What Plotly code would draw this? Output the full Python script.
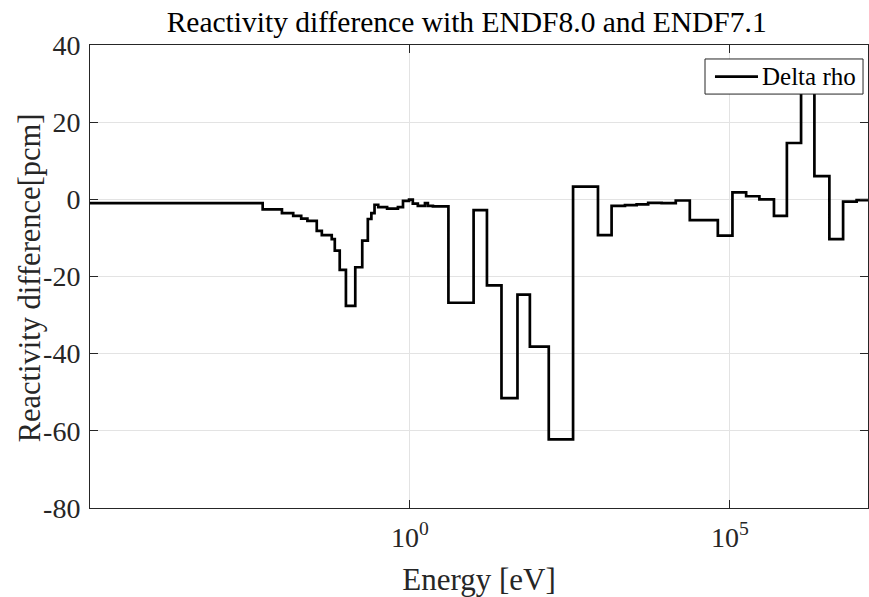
import numpy as np
import plotly.graph_objects as go

# Group boundaries [eV] and reactivity difference per group [pcm]
energy_edges = [
    1e-5, 5e-3, 1e-2, 1.5e-2, 2e-2, 2.5e-2, 3.5e-2, 4.2e-2, 6e-2, 6.7e-2,
    8e-2, 0.1, 0.14, 0.18, 0.22, 0.25, 0.28, 0.32, 0.44, 0.65,
    0.78, 0.97, 1.11, 1.33, 1.72, 1.91, 2.29, 4.0, 9.9, 16,
    27, 48, 75, 148, 355, 870, 1.42e3, 2.3e3, 3.5e3, 5.3e3,
    8.6e3, 1.43e4, 2.37e4, 6.5e4, 1.1e5, 1.8e5, 2.9e5, 4.9e5, 7.8e5, 1.3e6,
    2.1e6, 3.6e6, 5.9e6, 9.6e6, 1.6e7,
]
delta_rho = [
    -1.0, -2.6, -3.6, -4.3, -5.0, -5.6, -8.2, -9.3, -10.3, -13.3,
    -18.3, -27.6, -17.6, -10.7, -5.1, -3.6, -1.4, -2.0, -2.4, -2.0,
    -0.4, -0.1, -1.1, -1.7, -1.0, -1.7, -1.8, -26.8, -2.8, -22.3,
    -51.5, -24.7, -38.2, -62.2, 3.3, -9.3, -1.7, -1.5, -1.3, -0.9,
    -1.0, -0.3, -5.4, -9.4, 1.8, 0.8, 0.0, -4.3, 14.6, 32.0,
    6.0, -10.3, -0.6, -0.2,
]

x_ticks = [1, 1e5]
x_ticktext = ["10<sup>0</sup>", "10<sup>5</sup>"]
y_ticks = [-80, -60, -40, -20, 0, 20, 40]
y_ticktext = ["-80", "-60", "-40", "-20", "0", "20", "40"]
series_name = "Delta rho"

FONT = "Liberation Serif"
AXIS_COLOR = "#262626"
GRID_COLOR = "#e3e3e3"
LINE_W = 2.7

# Step curve: each value is held across its energy group
x_step = energy_edges
y_step = delta_rho + [delta_rho[-1]]

fig = go.Figure()
fig.add_trace(go.Scatter(
    x=x_step, y=y_step, mode="lines", name=series_name,
    line=dict(color="black", width=LINE_W, shape="hv"),
    showlegend=False,
))

# Boxed legend in the upper-right corner, drawn over the curve
leg_x0, leg_x1, leg_y0, leg_y1 = 0.7905, 0.9936, 0.894, 0.9698
leg_ym = (leg_y0 + leg_y1) / 2
fig.add_shape(type="rect", xref="paper", yref="paper",
              x0=leg_x0, x1=leg_x1, y0=leg_y0, y1=leg_y1,
              fillcolor="white", line=dict(color=AXIS_COLOR, width=1),
              layer="above")
fig.add_shape(type="line", xref="paper", yref="paper",
              x0=leg_x0 + 0.0128, x1=leg_x0 + 0.0681, y0=leg_ym, y1=leg_ym,
              line=dict(color="black", width=LINE_W), layer="above")
fig.add_annotation(xref="paper", yref="paper", x=leg_x0 + 0.0705, y=leg_ym,
                   xanchor="left", yanchor="middle", showarrow=False,
                   text=series_name,
                   font=dict(family=FONT, size=25, color="black"))

# Vertical axis title
fig.add_annotation(xref="paper", yref="paper", x=-0.0771, y=0.496,
                   xanchor="center", yanchor="middle", showarrow=False,
                   textangle=-90, text="Reactivity difference[pcm]",
                   font=dict(family=FONT, size=30.5, color=AXIS_COLOR))

fig.update_layout(
    width=869, height=597,
    margin=dict(l=90, r=1, t=45, b=89),
    paper_bgcolor="white", plot_bgcolor="white",
    font=dict(family=FONT, color=AXIS_COLOR, size=28),
    title=dict(
        text="Reactivity difference with ENDF8.0 and ENDF7.1",
        x=0.537, xref="container", xanchor="center",
        y=1 - 22 / 597, yref="container", yanchor="middle",
        font=dict(family=FONT, size=29.5, color="black"),
    ),
    showlegend=False,
)

fig.update_xaxes(
    type="log", range=[-5, 7.16],
    tickvals=x_ticks, ticktext=x_ticktext,
    ticks="inside", ticklen=8, tickcolor=AXIS_COLOR,
    showline=True, linecolor=AXIS_COLOR, linewidth=1, mirror="ticks",
    showgrid=True, gridcolor=GRID_COLOR, gridwidth=1,
    zeroline=False,
    tickfont=dict(family=FONT, size=28, color=AXIS_COLOR),
    ticklabelstandoff=4,
    title=dict(text="Energy [eV]", standoff=16,
               font=dict(family=FONT, size=31, color=AXIS_COLOR)),
)
fig.update_yaxes(
    range=[-80, 40], tickvals=y_ticks, ticktext=y_ticktext,
    ticks="inside", ticklen=8, tickcolor=AXIS_COLOR,
    showline=True, linecolor=AXIS_COLOR, linewidth=1, mirror="ticks",
    showgrid=True, gridcolor=GRID_COLOR, gridwidth=1,
    zeroline=False,
    tickfont=dict(family=FONT, size=28, color=AXIS_COLOR),
    ticklabelstandoff=3,
)

fig.write_html("out.html")
